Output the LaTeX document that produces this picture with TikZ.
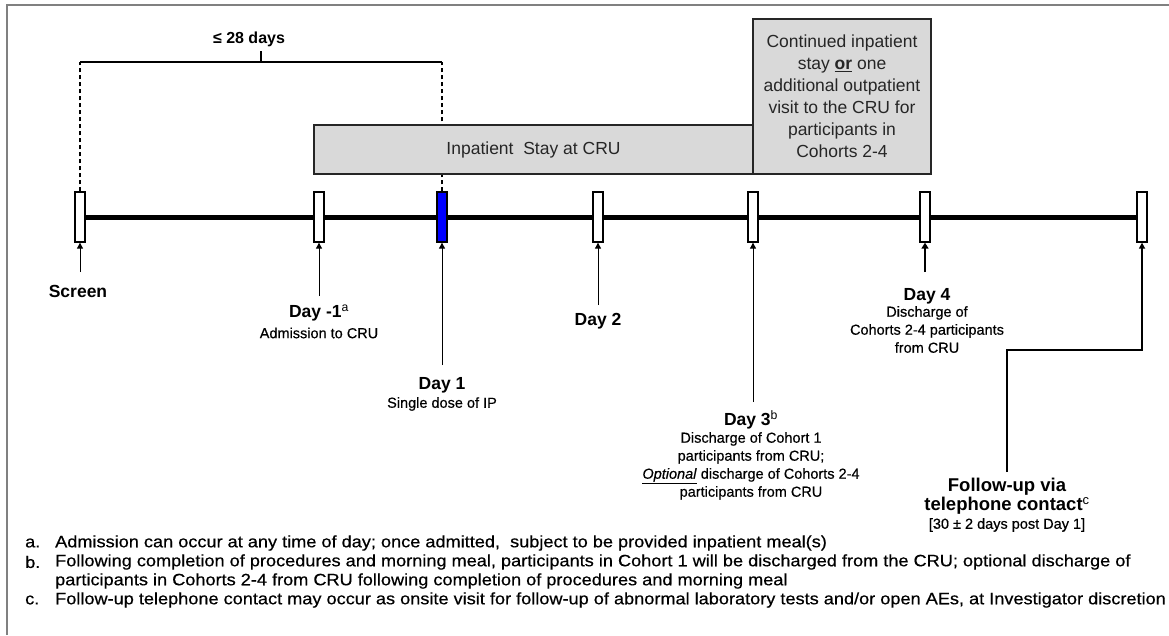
\documentclass[tikz,border=0pt]{standalone}
\usepackage{fontspec}
\setmainfont{Liberation Sans}
\newfontfamily\heavy[FakeBold=0.5]{Liberation Sans}
\newfontfamily\footfont[FakeBold=0.5,FakeStretch=1.1]{Liberation Sans}
\usetikzlibrary{arrows.meta}
\begin{document}
\begin{tikzpicture}[x=1pt,y=-1pt,
  tmark/.style={rectangle, draw=black, line width=1.3pt, fill=white, minimum width=10pt, minimum height=50pt, inner sep=0pt},
  arr/.style={-{Triangle[length=6pt,width=6pt]}, line width=0.9pt},
  thickarr/.style={-{Triangle[length=6pt,width=7pt]}, line width=2.2pt},
  lbl/.style={font=\fontsize{17.5}{19}\selectfont\bfseries, align=center, inner sep=0pt},
  bigl/.style={font=\fontsize{18.5}{19}\selectfont\bfseries, align=center, inner sep=0pt},
  sub/.style={font=\fontsize{14.5}{18}\selectfont\heavy, align=center, inner sep=0pt},
  graybox/.style={rectangle, draw=black!85, line width=1.2pt, fill=black!15, inner sep=0pt, text=black!85},
  foot/.style={font=\fontsize{16.5}{19}\selectfont\footfont, anchor=west, inner sep=0pt},
  tline/.style={line width=5pt},
  dline/.style={line width=1.2pt, dash pattern=on 4pt off 3pt}
]
\useasboundingbox (0,0) rectangle (1169,635);
\draw[black!50, line width=1.5pt] (7,635) -- (7,5) -- (1169,5);

% markers
\node[tmark] (m0) at (80,217) {};
\node[tmark] (m1) at (319,217) {};
\node[tmark, fill=blue] (m2) at (442,217) {};
\node[tmark] (m3) at (598,217) {};
\node[tmark] (m4) at (753,217) {};
\node[tmark] (m5) at (925,217) {};
\node[tmark] (m6) at (1142,217) {};

% bracket
\coordinate (b0) at (80,62);
\coordinate (b1) at (442,62);
\coordinate (bt) at (261,62);
\coordinate (btt) at (261,51);
\draw[dline] (m0.north) -- (b0);
\draw[dline] (m2.north) -- (b1);
\draw[line width=1.2pt] (b0) -- (b1);
\draw[line width=1.4pt] (bt) -- (btt);
\node[font=\fontsize{16}{19}\selectfont\bfseries, inner sep=0pt] (d28) at (249,39) {≤ 28 days};

% boxes
\node[graybox, minimum width=439pt, minimum height=49pt, font=\fontsize{17.5}{20}\selectfont] (inp) at (533.5,149.5) {Inpatient\ \ Stay at CRU};
\node[graybox, minimum width=178pt, minimum height=155pt, align=center, font=\fontsize{17.5}{22}\selectfont] (cont) at (842,96.5) {Continued inpatient\\stay \underline{\textbf{or}} one\\additional outpatient\\visit to the CRU for\\participants in\\Cohorts 2-4};

% timeline
\foreach \a/\b in {m0/m1,m1/m2,m2/m3,m3/m4,m4/m5,m5/m6}
  \draw[tline] (\a.east) -- (\b.west);

% arrows and labels
\coordinate (t0) at (80,272);
\draw[arr] (t0) -- (m0.south);
\node[lbl] (l0) at (78,291) {Screen};

\coordinate (t1) at (319,296);
\draw[arr] (t1) -- (m1.south);
\node[lbl] (l1) at (319,313) {Day -1\textsuperscript{\mdseries a}};
\node[sub] (s1) at (319,333) {Admission to CRU};

\coordinate (t2) at (442,365);
\draw[arr] (t2) -- (m2.south);
\node[lbl] (l2) at (442,385) {Day 1};
\node[sub] (s2) at (442,404) {Single dose of IP};

\coordinate (t3) at (598,305);
\draw[arr] (t3) -- (m3.south);
\node[lbl] (l3) at (598,321) {Day 2};

\coordinate (t4) at (753,402);
\draw[arr] (t4) -- (m4.south);
\node[lbl] (l4) at (751,420) {Day 3\textsuperscript{\mdseries b}};
\node[sub, anchor=north] (s4) at (751,432) {Discharge of Cohort 1\\participants from CRU;\\\underline{\textit{Optional}} discharge of Cohorts 2-4\\participants from CRU};

\coordinate (t5) at (925,272);
\draw[thickarr] (t5) -- (m5.south);
\node[lbl] (l5) at (927,296) {Day 4};
\node[sub, anchor=north] (s5) at (927,306) {Discharge of\\Cohorts 2-4 participants\\from CRU};

\coordinate (t6) at (1007,472);
\coordinate (c6) at (1142,350);
\draw[line width=1.8pt, -{Triangle[length=6pt,width=6pt]}] (t6) |- (c6) -- (m6.south);
\node[bigl] (l6) at (1007,496) {Follow-up via\\telephone contact\textsuperscript{\mdseries c}};
\node[sub] (s6) at (1007,525) {[30 ± 2 days post Day 1]};

% footnotes
\node[foot] (fa) at (25,543) {a.};
\node[foot] (fat) at (55,543) {Admission can occur at any time of day; once admitted,\ \ subject to be provided inpatient meal(s)};
\node[foot] (fb) at (25,562) {b.};
\node[foot] (fbt) at (55,562) {Following completion of procedures and morning meal, participants in Cohort 1 will be discharged from the CRU; optional discharge of};
\node[foot] (fbt2) at (55,581) {participants in Cohorts 2-4 from CRU following completion of procedures and morning meal};
\node[foot] (fc) at (25,600) {c.};
\node[foot] (fct) at (55,600) {Follow-up telephone contact may occur as onsite visit for follow-up of abnormal laboratory tests and/or open AEs, at Investigator discretion};
\end{tikzpicture}
\end{document}
